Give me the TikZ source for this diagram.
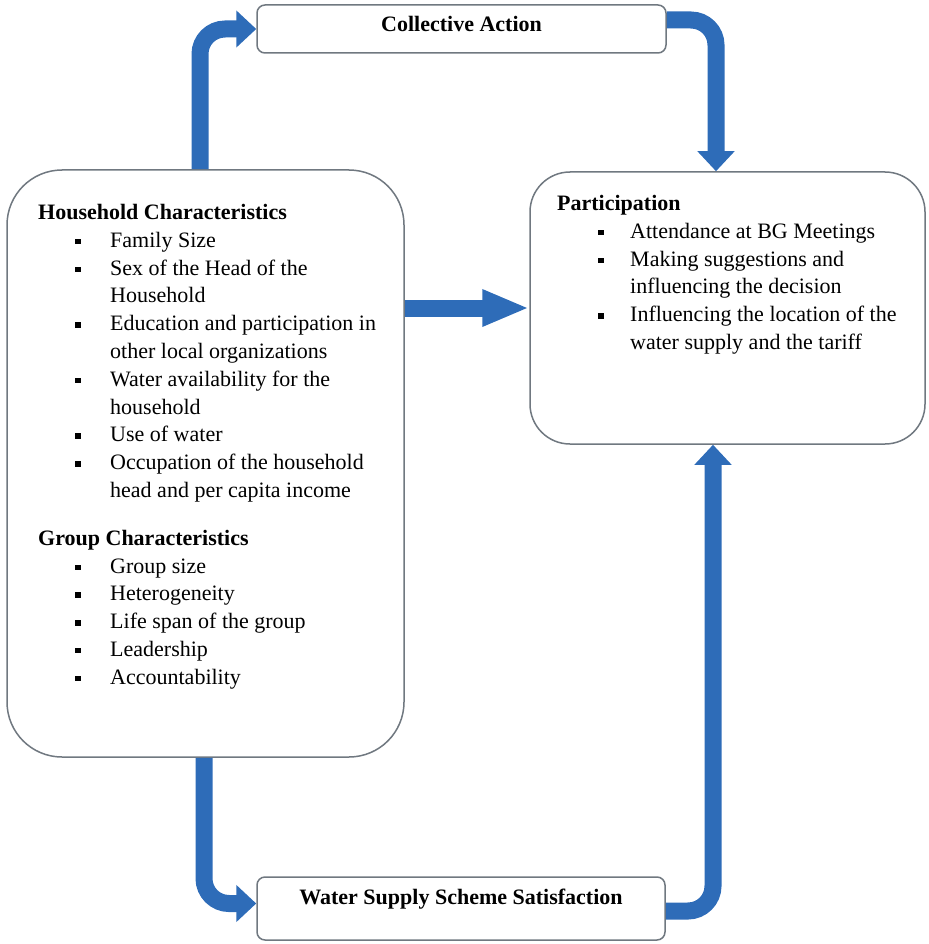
\documentclass[tikz,border=0pt]{standalone}
\usepackage{fontspec}
\setmainfont{Liberation Serif}
\usetikzlibrary{arrows.meta}
\definecolor{flowblue}{RGB}{46,108,184}
\definecolor{boxgray}{RGB}{112,120,128}
\newcommand{\sqb}{\rule[3pt]{5.5pt}{5.5pt}}
\newcommand{\itm}[1]{\hspace*{37pt}\sqb\hspace*{29.5pt}#1}
\newcommand{\cont}[1]{\hspace*{72pt}#1}
\newcommand{\pitm}[1]{\hspace*{41pt}\sqb\hspace*{26.5pt}#1}
\newcommand{\pcont}[1]{\hspace*{73pt}#1}

\begin{document}
\begin{tikzpicture}[x=1pt,y=-1pt,
    box/.style={draw=boxgray,line width=1.5pt,fill=white,inner sep=0pt},
    flow/.style={draw=flowblue,line width=17pt,rounded corners=25pt,
        -{Triangle[length=20pt,width=36pt]}},
    txt/.style={anchor=north west,align=left,inner sep=0pt,
        font=\fontsize{22}{27.8}\selectfont}]
    \useasboundingbox (0,0) rectangle (928,944);
    % boxes
    \node[box,rounded corners=8pt,minimum width=409pt,minimum height=48pt,
        font=\fontsize{22}{27.8}\selectfont\bfseries,text height=15pt,text depth=10pt]
        (collect) at (461.5,29) {Collective Action};
    \node[box,rounded corners=55pt,minimum width=397pt,minimum height=587pt]
        (house) at (205.5,463.5) {};
    \node[box,rounded corners=40pt,minimum width=395pt,minimum height=272pt]
        (part) at (727.5,308) {};
    \node[box,rounded corners=8pt,minimum width=408pt,minimum height=63pt,
        font=\fontsize{22}{27.8}\selectfont\bfseries,text height=15pt,text depth=24pt]
        (water) at (461,908.5) {Water Supply Scheme Satisfaction};
    % box texts
    \node[txt] (housetxt) at (38,204) {\textbf{Household Characteristics}\\
        \itm{Family Size}\\
        \itm{Sex of the Head of the}\\
        \cont{Household}\\
        \itm{Education and participation in}\\
        \cont{other local organizations}\\
        \itm{Water availability for the}\\
        \cont{household}\\
        \itm{Use of water}\\
        \itm{Occupation of the household}\\
        \cont{head and per capita income}\\[20pt]
        \textbf{Group Characteristics}\\
        \itm{Group size}\\
        \itm{Heterogeneity}\\
        \itm{Life span of the group}\\
        \itm{Leadership}\\
        \itm{Accountability}};
    \node[txt] (parttxt) at (557,195) {\textbf{Participation}\\
        \pitm{Attendance at BG Meetings}\\
        \pitm{Making suggestions and}\\
        \pcont{influencing the decision}\\
        \pitm{Influencing the location of the}\\
        \pcont{water supply and the tariff}};
    % arrows
    \draw[flow] ([xshift=-5.5pt]house.north) |- (collect.west);
    \draw[flow] ([yshift=9pt]collect.east) -| ([xshift=-11.5pt]part.north);
    \draw[flow,-{Triangle[length=47pt,width=34pt]}] ([yshift=155.5pt]house.east)
        -- ([yshift=155.5pt]house.east -| part.west);
    \draw[flow] ([xshift=-1.5pt]house.south) |- ([yshift=5pt]water.west);
    \draw[flow] ([yshift=-2.5pt]water.east) -| ([xshift=-14.5pt]part.south);
\end{tikzpicture}
\end{document}
